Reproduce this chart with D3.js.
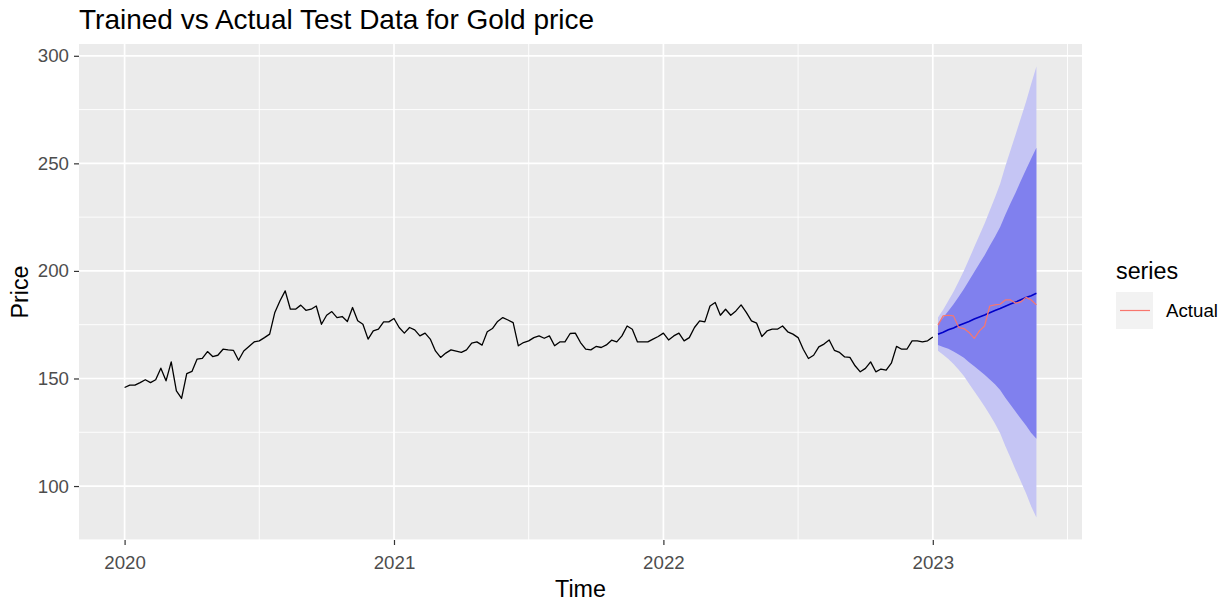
<!DOCTYPE html>
<html>
<head>
<meta charset="utf-8">
<script src="https://cdn.jsdelivr.net/npm/d3@7"></script>
<style>
  body { margin: 0; background: #ffffff; }
  svg { display: block; }
  text { font-family: "Liberation Sans", Arial, sans-serif; }
</style>
</head>
<body>
<svg id="chart" width="1228" height="604"></svg>
<script>
// Weekly gold price series (training part), starting at 2020 week 1
const seriesStart = 2020;
const weeksPerYear = 52;
const trainedPrice = [
  145.8, 146.9, 146.9, 148.1, 149.4, 148.1, 149.4, 154.8, 148.9, 157.7,
  144.2, 140.7, 152.3, 153.3, 159.0, 159.3, 162.5, 160.2, 160.8, 163.6,
  163.3, 163.1, 158.5, 162.8, 164.9, 167.0, 167.5, 169.0, 170.6, 180.7,
  186.1, 190.7, 182.2, 182.2, 184.1, 181.7, 182.2, 183.7, 175.2, 179.4,
  181.1, 178.3, 178.8, 176.5, 183.0, 176.8, 175.2, 168.3, 172.1, 172.9,
  176.3, 176.3, 177.9, 173.7, 171.1, 173.7, 172.6, 169.8, 171.1, 168.3,
  162.8, 159.8, 161.8, 163.3, 162.7, 162.1, 163.3, 166.4, 167.0, 165.5,
  171.7, 173.2, 176.5, 178.3, 177.2, 176.0, 165.2, 166.7, 167.5, 169.0,
  169.8, 168.7, 169.8, 165.2, 167.0, 167.0, 170.9, 171.1, 166.7, 163.6,
  163.3, 164.9, 164.4, 165.6, 167.8, 167.0, 169.8, 174.4, 172.9, 167.0,
  167.0, 167.0, 168.3, 169.5, 171.1, 167.9, 169.8, 171.1, 167.5, 169.0,
  173.7, 176.8, 176.3, 183.7, 185.3, 179.4, 182.2, 179.4, 181.4, 184.2,
  180.7, 176.8, 175.7, 169.5, 172.1, 172.9, 172.9, 174.4, 171.7, 170.6,
  169.0, 163.6, 159.3, 160.8, 164.7, 166.0, 167.9, 163.1, 162.1, 160.0,
  159.8, 155.9, 153.1, 154.7, 157.7, 153.1, 154.4, 153.9, 157.1, 164.9,
  163.6, 163.6, 167.5, 167.5, 167.0, 167.5, 169.3
];

// Test horizon: 20 weeks following the training data
const testWeekOffset = 1;
const actualPrice = [
  174.8, 179.1, 179.4, 179.1, 173.7, 173.2, 171.4, 168.6, 172.1, 174.4,
  183.7, 184.2, 184.5, 186.5, 186.5, 185.0, 185.6, 187.7, 186.5, 184.2
];
const pointForecast = [
  170.6, 171.5, 172.6, 173.5, 174.6, 175.6, 176.5, 177.6, 178.6, 179.5,
  180.6, 181.6, 182.5, 183.6, 184.6, 185.5, 186.6, 187.6, 188.5, 189.6
];
const lower80 = [
  165.6, 164.6, 163.8, 162.5, 161.2, 159.6, 157.5, 155.7, 153.7, 151.7,
  149.5, 147.3, 144.6, 141.1, 137.8, 134.5, 131.3, 128.1, 124.7, 122.0
];
const upper80 = [
  175.6, 178.4, 181.4, 184.5, 188.0, 191.6, 195.5, 199.5, 203.5, 207.3,
  211.7, 215.9, 220.4, 226.1, 231.4, 236.5, 241.9, 247.1, 252.3, 257.2
];
const lower95 = [
  162.9, 161.0, 159.1, 156.7, 154.1, 151.1, 147.5, 144.1, 140.6, 137.0,
  133.1, 129.1, 124.5, 118.6, 113.1, 107.5, 102.1, 96.6, 90.5, 85.4
];
const upper95 = [
  178.3, 182.0, 186.1, 190.3, 195.1, 200.1, 205.5, 211.1, 216.6, 222.0,
  228.1, 234.1, 240.5, 248.6, 256.1, 263.5, 271.1, 278.6, 287.0, 295.0
];

const xTickValues = [2020, 2021, 2022, 2023];
const yTickValues = [100, 150, 200, 250, 300];

const titleText = "Trained vs Actual Test Data for Gold price";
const xTitle = "Time";
const yTitle = "Price";
const legendTitle = "series";
const legendLabels = ["Actual"];

// ---- layout ----
const svg = d3.select("#chart");
const panel = { left: 79, right: 1082, top: 44, bottom: 540 };

const train = trainedPrice.map((v, i) => ({ t: seriesStart + i / weeksPerYear, v }));
const lastTrainT = train[train.length - 1].t;
const test = pointForecast.map((m, i) => ({
  t: lastTrainT + (i + testWeekOffset) / weeksPerYear,
  mean: m,
  actual: actualPrice[i],
  lo80: lower80[i], hi80: upper80[i],
  lo95: lower95[i], hi95: upper95[i]
}));

// continuous scales with 5% expansion on both sides
function expand(ext) {
  const pad = (ext[1] - ext[0]) * 0.05;
  return [ext[0] - pad, ext[1] + pad];
}
const xExt = [train[0].t, test[test.length - 1].t];
const allY = trainedPrice.concat(actualPrice, lower95, upper95);
const yExt = d3.extent(allY);

const x = d3.scaleLinear().domain(expand(xExt)).range([panel.left, panel.right]);
const y = d3.scaleLinear().domain(expand(yExt)).range([panel.bottom, panel.top]);

// panel background
svg.append("rect")
  .attr("x", panel.left).attr("y", panel.top)
  .attr("width", panel.right - panel.left)
  .attr("height", panel.bottom - panel.top)
  .attr("fill", "#EBEBEB");

const grid = svg.append("g");
const [xd0, xd1] = x.domain();
const [yd0, yd1] = y.domain();
const xMinor = d3.range(2019.5, 2024, 1).filter(v => v >= xd0 && v <= xd1);
const yMinor = d3.range(75, 326, 50).filter(v => v >= yd0 && v <= yd1);

grid.selectAll("line.xminor").data(xMinor).join("line")
  .attr("x1", d => x(d)).attr("x2", d => x(d))
  .attr("y1", panel.top).attr("y2", panel.bottom)
  .attr("stroke", "#ffffff").attr("stroke-width", 0.9);
grid.selectAll("line.yminor").data(yMinor).join("line")
  .attr("y1", d => y(d)).attr("y2", d => y(d))
  .attr("x1", panel.left).attr("x2", panel.right)
  .attr("stroke", "#ffffff").attr("stroke-width", 0.9);
grid.selectAll("line.xmajor").data(xTickValues).join("line")
  .attr("x1", d => x(d)).attr("x2", d => x(d))
  .attr("y1", panel.top).attr("y2", panel.bottom)
  .attr("stroke", "#ffffff").attr("stroke-width", 1.7);
grid.selectAll("line.ymajor").data(yTickValues).join("line")
  .attr("y1", d => y(d)).attr("y2", d => y(d))
  .attr("x1", panel.left).attr("x2", panel.right)
  .attr("stroke", "#ffffff").attr("stroke-width", 1.7);

// prediction intervals
const band = (lo, hi) => d3.area().x(d => x(d.t)).y0(d => y(d[lo])).y1(d => y(d[hi]));
svg.append("path").datum(test).attr("d", band("lo95", "hi95")).attr("fill", "#C5C5F4");
svg.append("path").datum(test).attr("d", band("lo80", "hi80")).attr("fill", "#8080EE");

// training series
svg.append("path").datum(train)
  .attr("d", d3.line().x(d => x(d.t)).y(d => y(d.v)))
  .attr("fill", "none").attr("stroke", "#000000").attr("stroke-width", 1.3)
  .attr("stroke-linejoin", "round");

// point forecast
svg.append("path").datum(test)
  .attr("d", d3.line().x(d => x(d.t)).y(d => y(d.mean)))
  .attr("fill", "none").attr("stroke", "#0000C8").attr("stroke-width", 1.6);

// actual test data
svg.append("path").datum(test)
  .attr("d", d3.line().x(d => x(d.t)).y(d => y(d.actual)))
  .attr("fill", "none").attr("stroke", "#F8766D").attr("stroke-width", 1.2)
  .attr("stroke-linejoin", "round");

// axes
const tickFont = 18.7;
const yAxis = svg.append("g")
  .attr("transform", `translate(${panel.left},0)`)
  .call(d3.axisLeft(y).tickValues(yTickValues).tickSize(5).tickPadding(5).tickFormat(d3.format("d")));
const xAxis = svg.append("g")
  .attr("transform", `translate(0,${panel.bottom})`)
  .call(d3.axisBottom(x).tickValues(xTickValues).tickSize(5).tickPadding(11).tickFormat(d3.format("d")));
[yAxis, xAxis].forEach(a => {
  a.select(".domain").remove();
  a.selectAll(".tick line").attr("stroke", "#333333").attr("stroke-width", 1.2);
  a.selectAll(".tick text")
    .attr("fill", "#4D4D4D")
    .style("font-family", '"Liberation Sans", Arial, sans-serif')
    .style("font-size", tickFont + "px");
});

// titles
svg.append("text")
  .attr("x", panel.left).attr("y", 29)
  .attr("font-size", 28).attr("fill", "#000")
  .text(titleText);
svg.append("text")
  .attr("x", (panel.left + panel.right) / 2).attr("y", 597)
  .attr("text-anchor", "middle").attr("font-size", 23.3).attr("fill", "#000")
  .text(xTitle);
svg.append("text")
  .attr("transform", `translate(28,${(panel.top + panel.bottom) / 2}) rotate(-90)`)
  .attr("text-anchor", "middle").attr("font-size", 23.3).attr("fill", "#000")
  .text(yTitle);

// legend
const legend = svg.append("g").attr("transform", "translate(1116,0)");
legend.append("text").attr("x", 0).attr("y", 279)
  .attr("font-size", 23.3).attr("fill", "#000").text(legendTitle);
const keys = legend.selectAll("g.key").data(legendLabels).join("g")
  .attr("transform", (d, i) => `translate(0,${292 + i * 37})`);
keys.append("rect").attr("width", 37).attr("height", 37).attr("fill", "#F2F2F2");
keys.append("line").attr("x1", 4).attr("x2", 34).attr("y1", 18.5).attr("y2", 18.5)
  .attr("stroke", "#F8766D").attr("stroke-width", 1.2);
keys.append("text").attr("x", 50).attr("y", 18.5).attr("dy", "0.35em")
  .attr("font-size", tickFont).attr("fill", "#000").text(d => d);
</script>
</body>
</html>
